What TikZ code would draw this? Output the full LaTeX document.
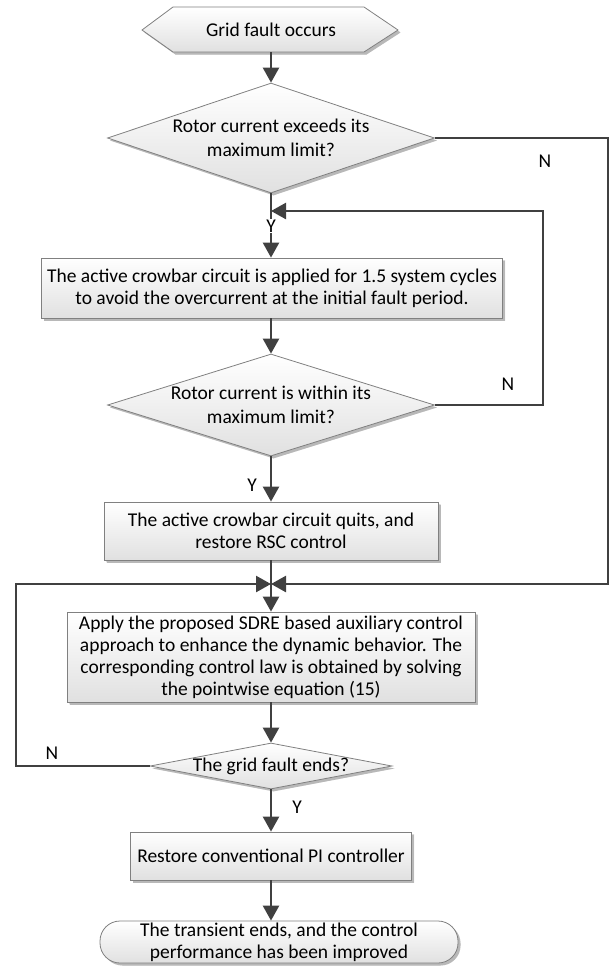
\documentclass[tikz,border=0pt]{standalone}
\usepackage{fontspec}
\setmainfont{Carlito}
\usetikzlibrary{shapes.geometric,arrows.meta,shadows}
\definecolor{linec}{HTML}{404040}
\definecolor{borderc}{HTML}{808080}
\begin{document}
\begin{tikzpicture}[x=1pt,y=-1pt,
  font=\fontsize{19.5}{22}\selectfont,
  shapebase/.style={draw=borderc, line width=0.8pt, top color=white, bottom color=black!12,
    drop shadow={shadow xshift=2.5pt, shadow yshift=-2.5pt, top color=black!30, bottom color=black!30, opacity=0.5},
    align=center, inner sep=0pt},
  procbox/.style={shapebase, rectangle},
  decision/.style={shapebase, diamond, aspect=3, inner xsep=-70pt, inner ysep=-22pt,
    font=\fontsize{19.5}{24.5}\selectfont},
  flow/.style={draw=linec, line width=2.5pt, -{Triangle[width=16pt,length=15pt]}},
  lbl/.style={inner sep=1pt}]
\useasboundingbox (0,0) rectangle (611,967);

% start (hexagon)
\path[shapebase] (142,30) -- (173,7) -- (364,7) -- (398,30) -- (364,52) -- (173,52) -- cycle;
\node[minimum width=256pt, minimum height=45pt, inner sep=0pt] (start) at (271,29.5) {Grid fault occurs};

\node[decision, minimum width=327pt, minimum height=110pt] (d1) at (271,138)
  {Rotor current exceeds its\\maximum limit?};
\node[procbox, minimum width=461pt, minimum height=60pt] (b1) at (272,288)
  {The active crowbar circuit is applied for 1.5 system cycles\\to avoid the overcurrent at the initial fault period.};
\node[decision, minimum width=327pt, minimum height=102pt] (d2) at (271,405)
  {Rotor current is within its\\maximum limit?};
\node[procbox, minimum width=334pt, minimum height=58pt] (b2) at (271,531)
  {The active crowbar circuit quits, and\\restore RSC control};
\node[procbox, minimum width=408pt, minimum height=90pt] (b3) at (271,657)
  {Apply the proposed SDRE based auxiliary control\\approach to enhance the dynamic behavior. The\\corresponding control law is obtained by solving\\the pointwise equation (15)};
\node[decision, minimum width=242pt, minimum height=46pt, inner ysep=-10pt] (d3) at (271,766)
  {The grid fault ends?};
\node[procbox, minimum width=281pt, minimum height=48pt] (b4) at (271,856)
  {Restore conventional PI controller};
\node[procbox, rounded corners=20pt, minimum width=358pt, minimum height=42pt] (end) at (279,942)
  {The transient ends, and the control\\performance has been improved};

\coordinate (j1) at (271,211);
\coordinate (lp) at (543,211);
\coordinate (m) at (271,584);
\coordinate (rc) at (608,584);
\coordinate (lc) at (16,584);

\draw[flow] (start.south) -- (d1.north);
\draw[flow] (d1.south) -- (d1.south |- b1.north);
\draw[flow] (b1.south -| d2.north) -- (d2.north);
\draw[flow] (d2.east) -| (lp) -- (j1);
\draw[flow] (d2.south) -- (b2.north);
\draw[flow] (b2.south) -- (b3.north);
\draw[flow] (d1.east) -| (rc) -- (m);
\draw[flow] (d3.west) -| (lc) -- (m);
\draw[flow] (b3.south) -- (d3.north);
\draw[flow] (d3.south) -- (b4.north);
\draw[flow] (b4.south) -- (b4.south |- end.north);

\node[lbl, fill=white] (y1) at (271,226) {Y};
\node[lbl] (n1) at (545,161) {N};
\node[lbl] (n2) at (508,384) {N};
\node[lbl] (y2) at (252,485) {Y};
\node[lbl] (n3) at (52,753) {N};
\node[lbl] (y3) at (297,807) {Y};
\end{tikzpicture}
\end{document}
